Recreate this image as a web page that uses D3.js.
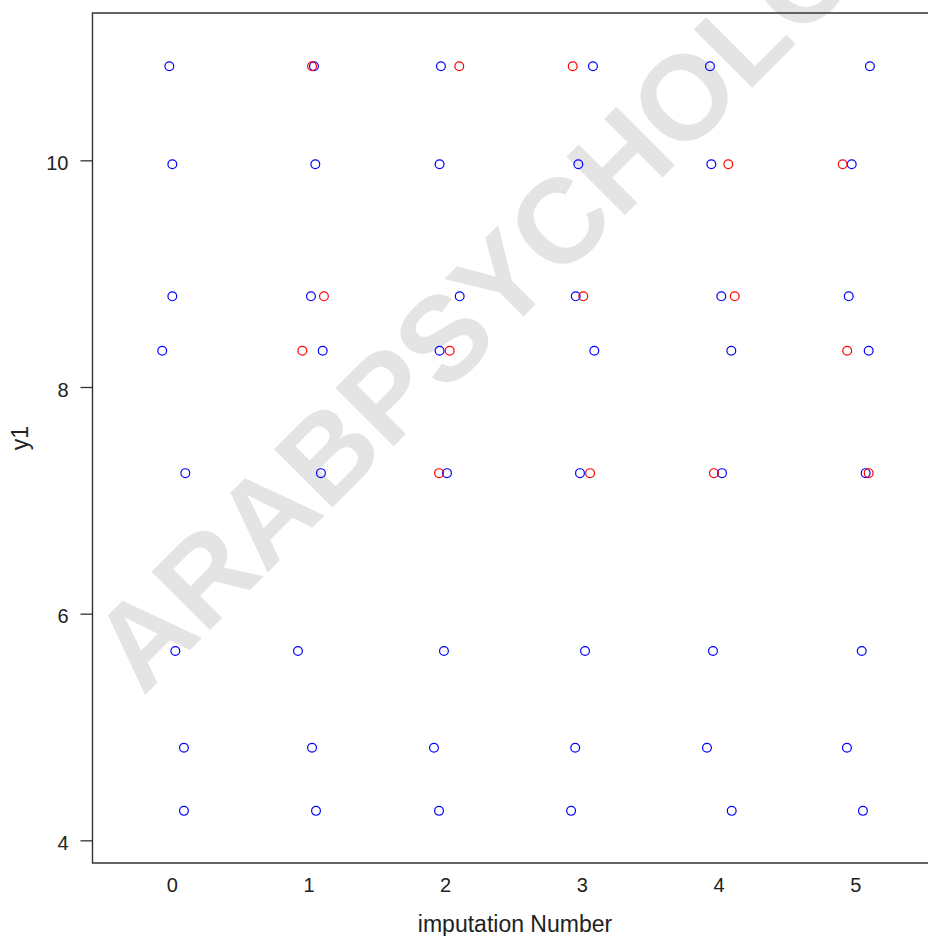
<!DOCTYPE html>
<html>
<head>
<meta charset="utf-8">
<script src="https://cdn.jsdelivr.net/npm/d3@7"></script>
<style>
  html, body { margin: 0; padding: 0; background: #fff; }
  svg { display: block; font-family: "Liberation Sans", Arial, sans-serif; }
</style>
</head>
<body>
<div id="chart"></div>
<script>
// imputation number 0 = observed data, 1..5 = imputed datasets
const imputations = [0, 1, 2, 3, 4, 5];
const yTicks = [4, 6, 8, 10];

// observed y1 values (same in every column)
const observedY = [10.83, 9.965, 8.80, 8.32, 7.24, 5.67, 4.817, 4.26];

// jittered x position of each observed point, one list per column
const observedX = [
  [-0.018, 0.004, 0.004, -0.070, 0.099, 0.026, 0.089, 0.089],
  [1.040, 1.050, 1.018, 1.104, 1.091, 0.923, 1.026, 1.055],
  [1.969, 1.959, 2.106, 1.959, 2.013, 1.991, 1.918, 1.955],
  [3.081, 2.974, 2.955, 3.091, 2.986, 3.023, 2.951, 2.921],
  [3.937, 3.947, 4.020, 4.093, 4.025, 3.959, 3.915, 4.096],
  [5.107, 4.974, 4.952, 5.098, 5.076, 5.047, 4.939, 5.056]
];

// imputed values (red), per imputation
const imputedY = [
  [],
  [10.83, 8.80, 8.32],
  [10.83, 8.32, 7.24],
  [10.83, 8.80, 7.24],
  [9.965, 8.80, 7.24],
  [9.965, 8.32, 7.24]
];
const imputedX = [
  [],
  [1.026, 1.113, 0.955],
  [2.103, 2.033, 1.955],
  [2.933, 3.010, 3.060],
  [4.071, 4.118, 3.966],
  [4.908, 4.941, 5.098]
];

const width = 928, height = 936;
const plot = { left: 92.5, top: 13, bottom: 863 };

const svg = d3.select("#chart").append("svg")
  .attr("width", width)
  .attr("height", height);

// watermark behind everything
svg.append("text")
  .attr("transform", "translate(143,697) rotate(-45)")
  .attr("font-size", 120)
  .attr("font-weight", "bold")
  .attr("fill", "#e4e4e4")
  .text("ARABPSYCHOLOGY");

const x = d3.scaleLinear()
  .domain([-0.58, 5.62])
  .range([plot.left, plot.left + 6.2 * 136.7]);

const y = d3.scaleLinear()
  .domain([3.80, 11.30])
  .range([plot.bottom, plot.top]);

// flatten the arrays into point records
const points = [];
imputations.forEach((k) => {
  observedY.forEach((v, i) => points.push({ x: observedX[k][i], y: v, imputed: false }));
  imputedY[k].forEach((v, i) => points.push({ x: imputedX[k][i], y: v, imputed: true }));
});

svg.append("g")
  .selectAll("circle")
  .data(points)
  .join("circle")
  .attr("cx", (d) => x(d.x))
  .attr("cy", (d) => y(d.y))
  .attr("r", 4.4)
  .attr("fill", "none")
  .attr("stroke", (d) => (d.imputed ? "#ff0000" : "#0000ff"))
  .attr("stroke-width", 1.2);

// y axis
const yAxis = svg.append("g")
  .attr("transform", `translate(${plot.left},0)`)
  .call(d3.axisLeft(y).tickValues(yTicks).tickFormat(d3.format("d")).tickSize(12).tickPadding(12).tickSizeOuter(0));
yAxis.select(".domain").remove();
yAxis.selectAll("line").attr("stroke", "#333").attr("stroke-width", 1.3);
yAxis.selectAll("text")
  .attr("font-size", 20)
  .attr("fill", "#222")
  .attr("dy", "0.45em");

// x axis, labels only
const xAxis = svg.append("g")
  .attr("transform", `translate(0,${plot.bottom})`)
  .call(d3.axisBottom(x).tickValues(imputations).tickFormat(d3.format("d")).tickSize(0).tickPadding(15));
xAxis.select(".domain").remove();
xAxis.selectAll("text")
  .attr("font-size", 20)
  .attr("fill", "#222");

// frame (right side lies beyond the page)
svg.append("path")
  .attr("d", `M${width + 2},${plot.top}H${plot.left}V${plot.bottom}H${width + 2}`)
  .attr("fill", "none")
  .attr("stroke", "#333")
  .attr("stroke-width", 1.4);

// axis titles
svg.append("text")
  .attr("x", 515)
  .attr("y", 932)
  .attr("text-anchor", "middle")
  .attr("font-size", 23)
  .attr("fill", "#222")
  .text("imputation Number");

svg.append("text")
  .attr("transform", `translate(28,${(plot.top + plot.bottom) / 2}) rotate(-90)`)
  .attr("text-anchor", "middle")
  .attr("font-size", 23)
  .attr("fill", "#222")
  .text("y1");
</script>
</body>
</html>
